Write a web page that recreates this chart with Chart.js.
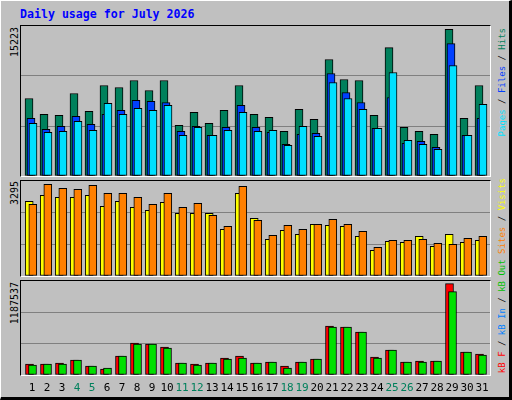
<!DOCTYPE html>
<html><head><meta charset="utf-8">
<script src="https://cdn.jsdelivr.net/npm/chart.js@4/dist/chart.umd.min.js"></script>
<style>
html,body{margin:0;padding:0;background:#C0C0C0;}
#wrap{position:relative;width:512px;height:400px;overflow:hidden;background:#C0C0C0;}
#frame{position:absolute;left:0;top:0;width:508px;height:396px;border-top:1px solid #fff;border-left:1px solid #fff;border-right:3px solid #000;border-bottom:3px solid #000;box-sizing:content-box;}
.panel{position:absolute;left:20px;width:469px;border-top:1px solid #000;border-left:1px solid #000;border-right:1px solid #fff;border-bottom:1px solid #fff;}
canvas{position:absolute;left:0;top:0;}
.t{position:absolute;font-family:"DejaVu Sans Mono",monospace;white-space:nowrap;}
.v{writing-mode:vertical-rl;transform:rotate(180deg);font-size:9px;line-height:10px;}
.lv{writing-mode:vertical-rl;transform:rotate(180deg);font-size:10px;line-height:11px;color:#000;}
</style></head><body>
<div id="wrap">
<div id="frame"></div>
<div class="panel" style="top:25px;height:150px"></div>
<div class="panel" style="top:180px;height:95px"></div>
<div class="panel" style="top:280px;height:94px"></div>
<div class="t" style="left:20px;top:7px;font-size:11.6px;font-weight:bold;color:#0000FF">Daily usage for July 2026</div>
<div class="t lv" style="left:9px;top:27px">15223</div>
<div class="t lv" style="left:9px;top:181px">3295</div>
<div class="t lv" style="left:9px;top:282px">1187537</div>
<div class="t v" style="left:497px;top:28px"><span style="color:#00E0FF">Pages</span> / <span style="color:#0040FF">Files</span> / <span style="color:#00805C">Hits</span></div>
<div class="t v" style="left:497px;top:178px"><span style="color:#FF0000">kB F</span> / <span style="color:#0080FF">kB In</span> / <span style="color:#00C000">kB Out</span> <span style="color:#FF8000">Sites</span> / <span style="color:#FFFF00">Visits</span></div>
<canvas id="c1" width="512" height="400"></canvas>
<canvas id="c2" width="512" height="400"></canvas>
<canvas id="c3" width="512" height="400"></canvas>
</div>
<script>
const days = [1,2,3,4,5,6,7,8,9,10,11,12,13,14,15,16,17,18,19,20,21,22,23,24,25,26,27,28,29,30,31];
const weekendDays = [4,5,11,12,18,19,25,26];
const hits  = [8047,6390,6286,8565,6700,9393,9186,9911,8875,9911,5251,6597,5458,6804,9393,6390,6079,4629,6908,5872,12086,10015,9911,6286,13328,5043,4629,4319,15223,5975,9393];
const files = [5975,4836,5147,6183,5354,6390,6804,7840,7736,7632,4629,5147,4215,5043,7322,5043,4526,3283,4319,4422,10636,8668,7632,4940,8150,3386,3594,2972,13743,4215,5975];
const pages = [5458,4526,4629,5665,4733,7529,6390,7011,6804,7322,4215,5043,4215,4733,6597,4629,4733,3179,5147,4111,9704,8047,6908,4940,10739,3697,3283,2765,11464,4215,7425];
const visits = [2683,2899,2827,2827,2899,2503,2683,2467,2359,2647,2252,2252,2252,1677,2970,2072,1317,1641,1497,1856,1820,1785,1425,922,1246,1210,1425,1066,1497,1210,1282];
const sites  = [2575,3295,3150,3114,3258,2970,2970,2827,2575,2970,2467,2611,2180,1785,3222,2000,1461,1820,1677,1856,2036,1856,1605,1030,1282,1282,1317,1174,1138,1353,1425];
const kbF   = [143000,143000,156000,195000,117000,78000,247000,416000,403000,364000,156000,143000,156000,221000,247000,156000,169000,117000,169000,208000,637000,624000,559000,234000,325000,169000,182000,182000,1187537,299000,273000];
const kbOut = [130000,143000,143000,195000,117000,91000,247000,403000,403000,351000,156000,130000,156000,208000,221000,156000,169000,91000,169000,208000,624000,624000,559000,221000,325000,169000,169000,182000,1083500,299000,260000];
const maxLabels = [15223,3295,1187537];

const pts = (arr, off) => arr.map((v,i)=>({x:days[i]+off, y:v}));
function ds(arr, off, color, order){
  return {data:pts(arr,off), order, backgroundColor:color, borderColor:'#000', borderWidth:1, barThickness:8, grouped:false, borderSkipped:false};
}
function makeChart(id, datasets, yMax, padTop, padBottom, extraPlugins){
  return new Chart(document.getElementById(id), {
    type:'bar',
    data:{datasets},
    options:{
      responsive:false, animation:false, devicePixelRatio:1,
      layout:{padding:{left:21,right:22,top:padTop,bottom:padBottom}},
      plugins:{legend:{display:false},tooltip:{enabled:false}},
      scales:{
        x:{type:'linear',display:false,offset:false,min:0.333,max:31.6,grid:{offset:false}},
        y:{min:0,max:yMax,afterFit:s=>{s.width=0;},
           ticks:{display:false,stepSize:yMax/3},
           border:{display:false},
           grid:{drawTicks:false,lineWidth:1,color:c=>(c.index===1||c.index===2)?'#808080':'rgba(0,0,0,0)'}}
      }
    },
    plugins: extraPlugins||[]
  });
}
makeChart('c1',[ds(hits,-0.133,'#00805C',3),ds(files,0,'#0040FF',2),ds(pages,0.133,'#00E0FF',1)],15566,26,224);
makeChart('c2',[ds(visits,-0.12,'#FFFF00',2),ds(sites,0.12,'#FF8000',1)],3414,181,124);
const xLabels = {
  id:'xLabels',
  afterDraw(chart){
    const ctx = chart.ctx, sx = chart.scales.x;
    ctx.save();
    ctx.font = '11px "DejaVu Sans Mono", monospace';
    ctx.textAlign='center'; ctx.textBaseline='middle';
    days.forEach(d=>{
      ctx.fillStyle = weekendDays.includes(d) ? '#00805C' : '#000';
      ctx.fillText(String(d), sx.getPixelForValue(d)+1, 388);
    });
    ctx.restore();
  }
};
makeChart('c3',[ds(kbF,-0.1,'#FF0000',2),ds(kbOut,0.1,'#00E000',1)],1222657,281,25,[xLabels]);
</script>
</body></html>
